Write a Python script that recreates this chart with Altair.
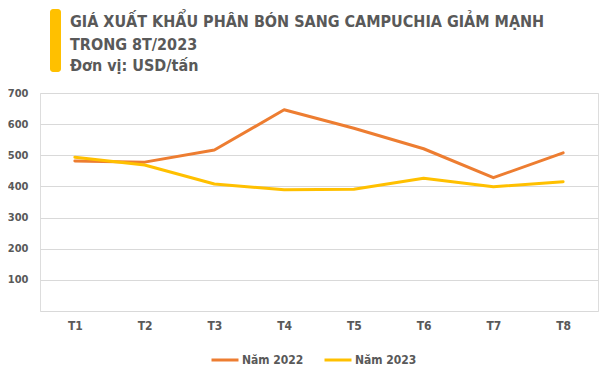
import altair as alt
import pandas as pd

months = ["T1", "T2", "T3", "T4", "T5", "T6", "T7", "T8"]
series_names = ["Năm 2022", "Năm 2023"]
values_2022 = [482, 478, 517, 646, 587, 521, 428, 508]
values_2023 = [494, 469, 408, 389, 391, 426, 399, 415]
y_ticks = [0, 100, 200, 300, 400, 500, 600, 700]
title_lines = [
    "GIÁ XUẤT KHẨU PHÂN BÓN SANG CAMPUCHIA GIẢM MẠNH",
    "TRONG 8T/2023",
    "Đơn vị: USD/tấn",
]
colors = ["#ED7D31", "#FFC000"]

FONT = "DejaVu Sans Condensed, Liberation Sans Narrow, sans-serif"
GRAY = "#595959"

df = pd.DataFrame({
    "month": months + months,
    "series": [series_names[0]] * len(months) + [series_names[1]] * len(months),
    "value": values_2022 + values_2023,
})

lines = alt.Chart(df).mark_line(strokeWidth=3, strokeJoin="round", strokeCap="round").encode(
    x=alt.X("month:O", sort=months,
            scale=alt.Scale(type="point", padding=0.5),
            axis=alt.Axis(title=None, labelAngle=0, ticks=False, domain=False, grid=False,
                          labelPadding=9, labelFontSize=12, labelFontWeight="bold",
                          labelColor=GRAY, labelFont=FONT)),
    y=alt.Y("value:Q",
            scale=alt.Scale(domain=[0, 700], nice=False, zero=True),
            axis=alt.Axis(title=None, values=y_ticks, ticks=False, domain=False,
                          labelExpr="datum.value == 0 ? '' : datum.label",
                          gridColor="#D9D9D9", gridWidth=1,
                          labelPadding=12, labelFontSize=11, labelFontWeight="bold",
                          labelColor=GRAY, labelFont=FONT)),
    color=alt.Color("series:N",
                    scale=alt.Scale(domain=series_names, range=colors),
                    legend=alt.Legend(title=None, orient="none", legendX=170, legendY=252,
                                      direction="horizontal", symbolType="stroke",
                                      symbolStrokeWidth=3, symbolSize=729,
                                      columnPadding=14, labelOffset=2,
                                      labelFontSize=12, labelFontWeight="bold",
                                      labelColor=GRAY, labelFont=FONT)),
)

one = pd.DataFrame({"k": [0]})

bar = alt.Chart(one).mark_rect(color="#FFC000", cornerRadius=3).encode(
    x=alt.value(10), x2=alt.value(21), y=alt.value(-84), y2=alt.value(-21)
)

title_y = [-66, -43, -22]
title_marks = [
    alt.Chart(one).mark_text(text=t, align="left", baseline="alphabetic",
                             font=FONT, fontSize=16, fontWeight="bold", color=GRAY).encode(
        x=alt.value(30), y=alt.value(yy))
    for t, yy in zip(title_lines, title_y)
]

chart = alt.layer(lines, bar, *title_marks).properties(
    width=558, height=218,
    autosize=alt.AutoSizeParams(type="none"),
    padding={"left": 32, "top": 85, "right": 2, "bottom": 58},
).configure_view(stroke=None).configure(background="white")

chart.save("out.html", embed_options={"renderer": "svg", "actions": False})
